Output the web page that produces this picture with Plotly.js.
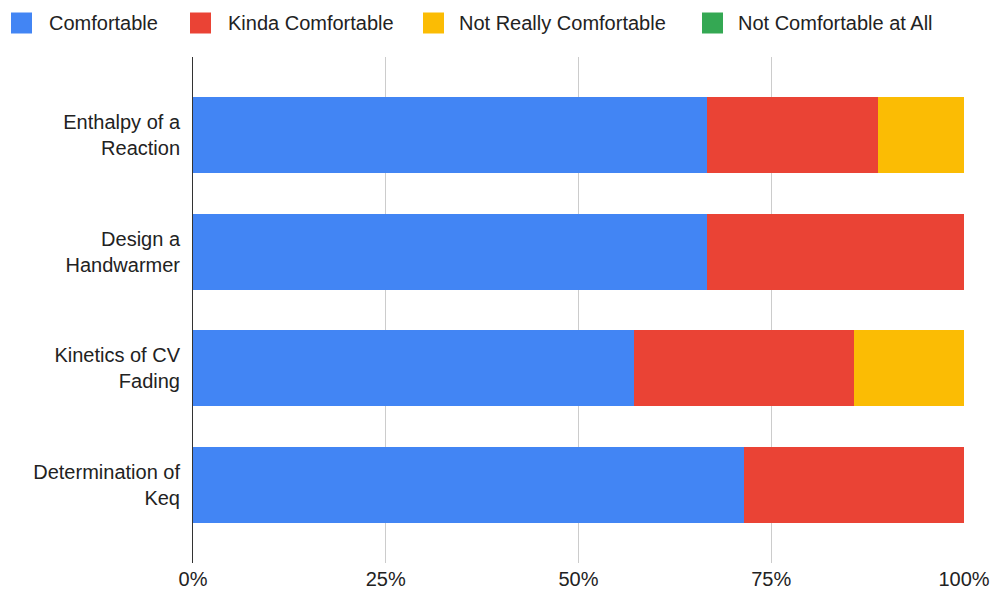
<!DOCTYPE html>
<html>
<head>
<meta charset="utf-8">
<script src="https://cdn.plot.ly/plotly-3.0.1.min.js"></script>
<style>html,body{margin:0;padding:0;background:#fff;}#chart{width:993px;height:592px;}</style>
</head>
<body>
<div id="chart"></div>
<script>
const categories = ["Enthalpy of a<br>Reaction", "Design a<br>Handwarmer", "Kinetics of CV<br>Fading", "Determination of<br>Keq"];
const seriesNames = ["Comfortable", "Kinda Comfortable", "Not Really Comfortable", "Not Comfortable at All"];
const comfortable = [6, 6, 4, 5];
const kinda = [2, 3, 2, 2];
const notReally = [1, 0, 1, 0];
const notAtAll = [0, 0, 0, 0];
const xTicks = [0, 25, 50, 75, 100];
const xTickLabels = ["0%", "25%", "50%", "75%", "100%"];

const colors = ["#4285F4", "#EA4335", "#FBBC04", "#34A853"];
const values = [comfortable, kinda, notReally, notAtAll];
const FONT = "'Liberation Sans', Arial, sans-serif";

const traces = values.map((v, i) => ({
  type: "bar",
  orientation: "h",
  name: seriesNames[i],
  y: categories,
  x: v,
  marker: { color: colors[i], line: { width: 0 } },
  showlegend: false,
  hoverinfo: "x+name"
}));

// plot area in pixels
const L = 193, R = 964, T = 57, B = 563;
const W = 993, H = 592;
const px2x = p => (p - L) / (R - L);
const py2y = p => (B - p) / (B - T);

const legendSquares = [21.5, 200.5, 433.5, 712.5];
const legendTextX = [47, 226, 457, 736];
const legendY = 23;

const shapes = [];
const annotations = [];
seriesNames.forEach((n, i) => {
  shapes.push({
    type: "rect", xref: "paper", yref: "paper",
    xsizemode: "pixel", ysizemode: "pixel",
    xanchor: px2x(legendSquares[i]), yanchor: py2y(legendY),
    x0: -10.5, x1: 10.5, y0: -10.5, y1: 10.5,
    fillcolor: colors[i], line: { width: 0 }
  });
  annotations.push({
    xref: "paper", yref: "paper",
    x: px2x(legendTextX[i]), y: py2y(legendY),
    xanchor: "left", yanchor: "middle",
    text: n, showarrow: false,
    font: { family: FONT, size: 20, color: "#222" }
  });
});

const layout = {
  width: W, height: H,
  margin: { l: L, r: W - R, t: T, b: H - B, pad: 0 },
  barmode: "stack",
  barnorm: "percent",
  bargap: 0.35,
  showlegend: false,
  paper_bgcolor: "#fff",
  plot_bgcolor: "#fff",
  font: { family: FONT, size: 20, color: "#222" },
  xaxis: {
    range: [0, 100],
    tickmode: "array",
    tickvals: xTicks,
    ticktext: xTickLabels,
    showgrid: true,
    gridcolor: "#cccccc",
    gridwidth: 1,
    zeroline: false,
    showline: false,
    ticks: "",
    ticklabelstandoff: 2,
    tickfont: { family: FONT, size: 20, color: "#222" },
    fixedrange: true
  },
  yaxis: {
    type: "category",
    range: [3.668, -0.668],
    showgrid: false,
    zeroline: false,
    showline: true,
    linecolor: "#333",
    linewidth: 1,
    ticks: "",
    ticklabelstandoff: 8,
    tickfont: { family: FONT, size: 20, color: "#222" },
    fixedrange: true
  },
  shapes: shapes,
  annotations: annotations
};

Plotly.newPlot("chart", traces, layout, { displayModeBar: false, staticPlot: true });
</script>
</body>
</html>
